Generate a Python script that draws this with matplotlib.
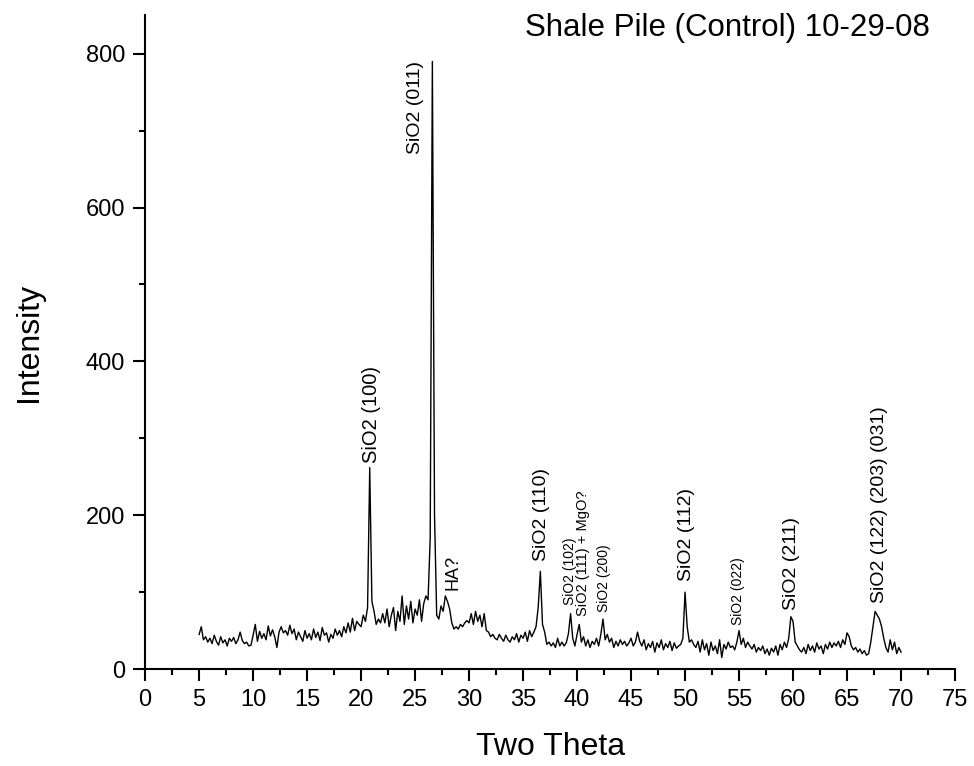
import numpy as np
import matplotlib.pyplot as plt

plt.rcParams['font.family'] = ['Liberation Sans', 'DejaVu Sans']

# two theta grid, 0.2 degree step from 5 to 70
two_theta = np.round(np.arange(5.0, 70.01, 0.2), 1)

# intensity, 5 values per degree
intensity = [
    45, 55, 38, 42, 35,    # 5
    40, 33, 44, 36, 31,    # 6
    42, 34, 38, 30, 40,    # 7
    36, 41, 33, 38, 48,    # 8
    37, 33, 35, 30, 31,    # 9
    44, 58, 36, 49, 40,    # 10
    46, 38, 56, 43, 51,    # 11
    42, 28, 48, 55, 47,    # 12
    50, 44, 57, 46, 52,    # 13
    38, 48, 42, 36, 50,    # 14
    40, 46, 38, 52, 41,    # 15
    48, 37, 54, 44, 47,    # 16
    35, 45, 40, 52, 44,    # 17
    50, 42, 55, 47, 60,    # 18
    48, 66, 50, 62, 58,    # 19
    55, 70, 62, 80, 262,   # 20
    88, 75, 58, 65, 60,    # 21
    72, 60, 78, 55, 70,    # 22
    80, 50, 75, 62, 95,    # 23
    58, 82, 65, 88, 60,    # 24
    78, 70, 90, 62, 85,    # 25
    95, 90, 170, 790, 200, # 26
    70, 65, 82, 75, 95,    # 27
    88, 78, 60, 52, 55,    # 28
    52, 58, 55, 60, 63,    # 29
    60, 72, 58, 75, 62,    # 30
    70, 55, 72, 50, 48,    # 31
    42, 45, 40, 38, 45,    # 32
    40, 36, 44, 38, 35,    # 33
    42, 38, 46, 35, 44,    # 34
    40, 48, 36, 50, 42,    # 35
    48, 55, 80, 127, 58,   # 36
    48, 32, 35, 30, 34,    # 37
    28, 40, 30, 35, 30,    # 38
    34, 46, 72, 40, 30,    # 39
    45, 58, 35, 42, 30,    # 40
    38, 28, 36, 32, 40,    # 41
    30, 45, 65, 38, 45,    # 42
    35, 40, 28, 36, 30,    # 43
    38, 32, 36, 30, 34,    # 44
    40, 30, 35, 48, 36,    # 45
    30, 38, 25, 33, 28,    # 46
    36, 22, 34, 28, 38,    # 47
    25, 33, 28, 36, 24,    # 48
    34, 27, 30, 32, 40,    # 49
    100, 55, 35, 38, 32,   # 50
    28, 36, 22, 38, 25,    # 51
    33, 18, 35, 24, 30,    # 52
    20, 38, 15, 32, 26,    # 53
    35, 28, 30, 25, 35,    # 54
    50, 32, 40, 28, 35,    # 55
    30, 26, 32, 22, 28,    # 56
    24, 30, 20, 26, 18,    # 57
    27, 22, 30, 18, 32,    # 58
    25, 35, 28, 40, 68,    # 59
    62, 35, 30, 25, 22,    # 60
    28, 20, 32, 24, 30,    # 61
    22, 34, 26, 30, 20,    # 62
    32, 26, 35, 28, 34,    # 63
    30, 36, 28, 38, 32,    # 64
    47, 42, 30, 25, 28,    # 65
    22, 26, 20, 24, 18,    # 66
    20, 35, 55, 75, 70,    # 67
    65, 55, 40, 28, 22,    # 68
    38, 25, 35, 20, 28,    # 69
    22,                    # 70
]

# peak labels: text, position, height of label foot, font size
peak_labels = ['SiO2 (100)', 'SiO2 (011)', 'HA?', 'SiO2 (110)', 'SiO2 (102)',
               'SiO2 (111) + MgO?', 'SiO2 (200)', 'SiO2 (112)', 'SiO2 (022)',
               'SiO2 (211)', 'SiO2 (122) (203) (031)']
label_x = [21.0, 25.05, 28.5, 36.75, 39.3, 40.55, 42.5, 50.15, 54.9, 59.9, 68.05]
label_y = [268, 670, 103, 141, 83, 69, 74, 115, 57, 77, 86]
label_size = [14.5, 14, 13, 14, 10, 10.5, 10, 14, 10, 14, 14]


fig = plt.figure(figsize=(9.74, 7.66), dpi=100)
ax = fig.add_axes([0.149, 0.1266, 0.8315, 0.8534])
ax.plot(two_theta, intensity, color='black', lw=1.0)

for txt, x, y, s in zip(peak_labels, label_x, label_y, label_size):
    ax.text(x, y, txt, rotation=90, ha='center', va='bottom', fontsize=s)

ax.text(72.7, 834, 'Shale Pile (Control) 10-29-08', ha='right', va='center',
        fontsize=22.5)

ax.set_xlim(0, 75)
ax.set_ylim(0, 850)
ax.set_xticks(np.arange(0, 76, 5))
ax.set_xticks(np.arange(2.5, 75, 5), minor=True)
ax.set_yticks(np.arange(0, 801, 200))
ax.set_yticks(np.arange(100, 801, 200), minor=True)

for side in ['top', 'right']:
    ax.spines[side].set_visible(False)
for side in ['left', 'bottom']:
    ax.spines[side].set_linewidth(1.5)
ax.tick_params(which='major', direction='out', length=8.5, width=1.5,
               labelsize=17, pad=6)
ax.tick_params(which='minor', direction='out', length=4.5, width=1.5)

ax.set_xlabel('Two Theta', fontsize=23, labelpad=15)
ax.set_ylabel('Intensity', fontsize=23, labelpad=30)

plt.savefig('out.png', dpi=100)
